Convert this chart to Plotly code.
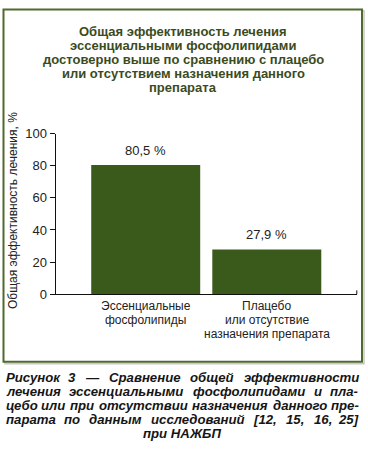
import glob
import struct
import plotly.graph_objects as go

# ---- data ----
categories = ["Эссенциальные<br>фосфолипиды", "Плацебо<br>или отсутствие<br>назначения препарата"]
values = [80.5, 27.9]
y_ticks = [0, 20, 40, 60, 80, 100]
title_lines = [
    "Общая эффективность лечения",
    "эссенциальными фосфолипидами",
    "достоверно выше по сравнению с плацебо",
    "или отсутствием назначения данного",
    "препарата",
]
y_title = "Общая эффективность лечения, %"
caption_lines = [
    "Рисунок 3 — Сравнение общей эффективности",
    "лечения эссенциальными фосфолипидами и пла-",
    "цебо или при отсутствии назначения данного пре-",
    "парата по данным исследований [12, 15, 16, 25]",
    "при НАЖБП",
]

W, H = 368, 454
def px(x): return x / W
def py(y): return 1 - y / H

FONT = "Liberation Sans, Arial, sans-serif"
BAR = "#3a5a1b"
TITLE_C = "#3b4b1d"
xs = list(range(len(values)))
labels = [f"{v:.1f}".replace(".", ",") + " %" for v in values]


# ---- text width measurement from the installed font file (for justified caption) ----
def load_font_widths(pattern):
    files = glob.glob("/usr/share/fonts/**/" + pattern, recursive=True)
    if not files:
        return None
    try:
        data = open(files[0], "rb").read()
        n = struct.unpack(">H", data[4:6])[0]
        tabs = {}
        for i in range(n):
            tag, _, off, ln = struct.unpack(">4sIII", data[12 + 16 * i:28 + 16 * i])
            tabs[tag.decode("latin1")] = off
        upem = struct.unpack(">H", data[tabs["head"] + 18:tabs["head"] + 20])[0]
        nhm = struct.unpack(">H", data[tabs["hhea"] + 34:tabs["hhea"] + 36])[0]
        hm = tabs["hmtx"]
        adv = [struct.unpack(">H", data[hm + 4 * i:hm + 4 * i + 2])[0] for i in range(nhm)]
        cm = tabs["cmap"]
        nsub = struct.unpack(">H", data[cm + 2:cm + 4])[0]
        sub = None
        for i in range(nsub):
            pid, eid, off = struct.unpack(">HHI", data[cm + 4 + 8 * i:cm + 12 + 8 * i])
            if pid == 3 and eid == 1:
                sub = cm + off
        fmt = struct.unpack(">H", data[sub:sub + 2])[0]
        if fmt != 4:
            return None
        segx2 = struct.unpack(">H", data[sub + 6:sub + 8])[0]
        seg = segx2 // 2
        ends = struct.unpack(">%dH" % seg, data[sub + 14:sub + 14 + segx2])
        sb = sub + 16 + segx2
        starts = struct.unpack(">%dH" % seg, data[sb:sb + segx2])
        db = sb + segx2
        deltas = struct.unpack(">%dh" % seg, data[db:db + segx2])
        rb = db + segx2
        ranges = struct.unpack(">%dH" % seg, data[rb:rb + segx2])

        def gid(code):
            for k in range(seg):
                if ends[k] >= code:
                    if starts[k] > code:
                        return 0
                    if ranges[k] == 0:
                        return (code + deltas[k]) & 0xFFFF
                    addr = rb + 2 * k + ranges[k] + 2 * (code - starts[k])
                    g = struct.unpack(">H", data[addr:addr + 2])[0]
                    return (g + deltas[k]) & 0xFFFF if g else 0
            return 0

        def width(s, fs):
            tot = 0
            for ch in s:
                g = gid(ord(ch))
                tot += adv[min(g, nhm - 1)]
            return tot / upem * fs
        return width
    except Exception:
        return None


def fallback_width(s, fs):
    return len(s) * 0.6 * fs


text_width = load_font_widths("LiberationSans-BoldItalic.ttf") or fallback_width

fig = go.Figure()
fig.add_trace(go.Bar(x=xs, y=values, width=0.9, marker=dict(color=BAR, line=dict(width=0)),
                     hoverinfo="skip"))

ann = []
# value labels
for x, v, t in zip(xs, values, labels):
    ann.append(dict(x=x, y=v, xref="x", yref="y", text=t, showarrow=False, yanchor="bottom",
                    yshift=5, font=dict(family=FONT, size=13, color="#222")))
# category labels (one annotation per line for tight line spacing)
for x, cat in zip(xs, categories):
    for k, part in enumerate(cat.split("<br>")):
        ann.append(dict(x=x, y=py(309.5 + k * 14.3), xref="x", yref="paper", text=part, showarrow=False,
                        xanchor="center", yanchor="middle", font=dict(family=FONT, size=12, color="#222")))
# title
for i, line in enumerate(title_lines):
    ann.append(dict(x=px(183), y=py(25 + i * 14.6), xref="paper", yref="paper", text=f"<b>{line}</b>",
                    showarrow=False, xanchor="center", yanchor="middle",
                    font=dict(family=FONT, size=13, color=TITLE_C)))
# y title
ann.append(dict(x=px(13), y=py(211), xref="paper", yref="paper", text=y_title, textangle=-90,
                showarrow=False, xanchor="center", yanchor="middle",
                font=dict(family=FONT, size=12, color="#222")))

# caption, justified word by word
CFS = 13.2
cx0, cx1 = 4.5, 360
for i, line in enumerate(caption_lines):
    yy = py(383.5 + i * 14.4)
    if i == len(caption_lines) - 1:
        ann.append(dict(x=px((cx0 + cx1) / 2), y=yy, xref="paper", yref="paper",
                        text=f"<b><i>{line}</i></b>", showarrow=False, xanchor="center", yanchor="middle",
                        font=dict(family=FONT, size=CFS, color="#151515")))
        continue
    words = line.split(" ")
    ws = [text_width(w, CFS) for w in words]
    gap = (cx1 - cx0 - sum(ws)) / (len(words) - 1)
    pos = cx0
    for j, (w, ww) in enumerate(zip(words, ws)):
        if j == len(words) - 1:
            xa, xp = "right", cx1
        elif j == 0:
            xa, xp = "left", cx0
        else:
            xa, xp = "center", pos + ww / 2
        ann.append(dict(x=px(xp), y=yy, xref="paper", yref="paper", text=f"<b><i>{w}</i></b>",
                        showarrow=False, xanchor=xa, yanchor="middle", borderpad=0,
                        font=dict(family=FONT, size=CFS, color="#151515")))
        pos += ww + gap

shapes = [
    # shadow
    dict(type="rect", xref="paper", yref="paper", x0=px(5), x1=px(364), y0=py(369), y1=py(4),
         line=dict(color="#c8c8c8", width=1.5), layer="below"),
    # frame
    dict(type="rect", xref="paper", yref="paper", x0=px(3.5), x1=px(362), y0=py(367), y1=py(2.5),
         line=dict(color="#4e6a2c", width=2), fillcolor="white", layer="below"),
    # small end tick on the x axis
    dict(type="line", xref="paper", yref="paper", x0=px(356.8), x1=px(356.8), y0=py(297), y1=py(293),
         line=dict(color="#111", width=1)),
]

fig.update_layout(
    width=W, height=H, margin=dict(l=0, r=0, t=0, b=0),
    paper_bgcolor="white", plot_bgcolor="rgba(0,0,0,0)",
    showlegend=False, annotations=ann, shapes=shapes, bargap=0.1,
    xaxis=dict(domain=[px(55.5), px(357)], range=[-0.745, 1.745], showline=True, linecolor="#111",
               linewidth=1, ticks="", tickvals=xs, showticklabels=False, showgrid=False, zeroline=False,
               fixedrange=True),
    yaxis=dict(domain=[py(297), py(131)], range=[0, 100], showline=True, linecolor="#111", linewidth=1,
               ticks="outside", ticklen=5, tickcolor="#111", tickvals=y_ticks, showgrid=False,
               zeroline=False, tickfont=dict(family=FONT, size=13, color="#222"), fixedrange=True),
)
fig.write_html("out.html", config={"displayModeBar": False},
               post_script="document.body.style.margin='0';document.body.style.overflow='hidden';")
